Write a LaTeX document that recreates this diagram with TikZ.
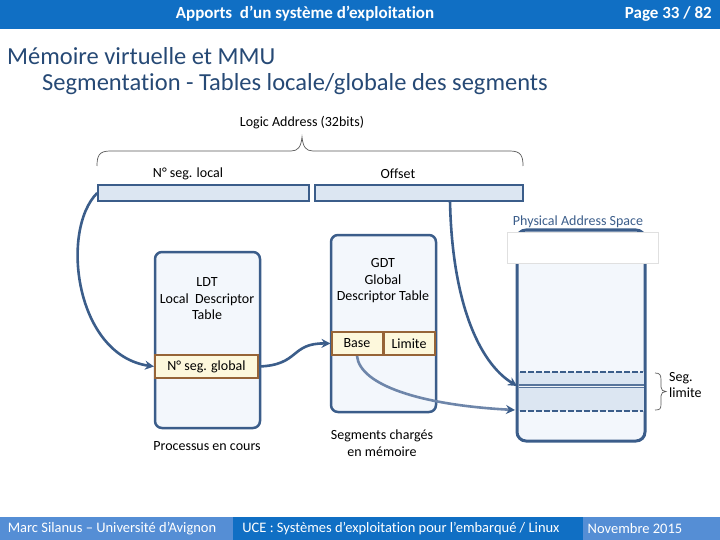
\documentclass[tikz,border=0pt]{standalone}
\usepackage{fontspec}
\setmainfont{Carlito}[Ligatures=NoCommon]
\usetikzlibrary{arrows.meta}
\definecolor{hdrblue}{RGB}{16,111,196}
\definecolor{footblue}{RGB}{85,142,213}
\definecolor{titleblue}{RGB}{38,73,117}
\definecolor{boxline}{RGB}{59,93,138}
\definecolor{boxfill}{RGB}{243,247,252}
\definecolor{barfill}{RGB}{220,230,242}
\definecolor{cellfill}{RGB}{253,248,220}
\definecolor{cellline}{RGB}{150,100,55}
\definecolor{linkpale}{RGB}{110,134,170}

\begin{document}
\begin{tikzpicture}[x=1pt, y=-1pt,
		table/.style={draw=boxline, fill=boxfill, line width=2.5pt, rounded corners=7pt, inner sep=0pt},
		addrbar/.style={draw=boxline, fill=barfill, line width=1.6pt, minimum height=16pt, inner sep=0pt},
		cell/.style={draw=cellline, fill=cellfill, line width=2pt, minimum height=23pt, inner sep=0pt, font=\fontsize{14}{16}\selectfont},
		link/.style={draw=boxline, line width=2.6pt, -{Stealth[length=9pt,width=9pt]}},
		lbl/.style={font=\fontsize{14}{16.5}\selectfont, align=center, inner sep=0pt}]
		\useasboundingbox (0,0) rectangle (720,540);

		% --- Header and footer bars ---
		\fill[hdrblue] (0,0) rectangle (720,29);
		\node[lbl, text=white, font=\fontsize{17}{20}\selectfont\bfseries] (hdrtitle) at (305,14) {Apports\ \ d’un système d’exploitation};
		\node[lbl, text=white, font=\fontsize{17}{20}\selectfont\bfseries, anchor=east] (hdrpage) at (712,14) {Page 33 / 82};
		\fill[footblue] (0,517) rectangle (233,540);
		\fill[hdrblue] (233,517) rectangle (583,540);
		\fill[footblue] (583,517) rectangle (720,540);
		\node[lbl, text=white, font=\fontsize{14.5}{17}\selectfont] (ftauthor) at (112,529) {Marc Silanus – Université d’Avignon};
		\node[lbl, text=white, font=\fontsize{14.5}{17}\selectfont] (ftcourse) at (401,529) {UCE : Systèmes d’exploitation pour l’embarqué / Linux};
		\node[lbl, text=white, font=\fontsize{14.5}{17}\selectfont] (ftdate) at (635,529) {Novembre 2015};

		% --- Slide title ---
		\node[lbl, text=titleblue, font=\fontsize{24.5}{29}\selectfont, anchor=west] (title1) at (7,56) {Mémoire virtuelle et MMU};
		\node[lbl, text=titleblue, font=\fontsize{24.5}{29}\selectfont, anchor=west] (title2) at (42,84) {Segmentation - Tables locale/globale des segments};

		% --- Logic address ---
		\node[lbl] (addrlbl) at (302,123) {Logic Address (32bits)};
		\draw[black!65, line width=0.7pt] (97,166) .. controls (97,156) and (99,151) .. (110,151) -- (291,151)
			.. controls (298,151) and (301,147) .. (302,137) .. controls (303,147) and (306,151) .. (313,151)
			-- (510,151) .. controls (521,151) and (523,156) .. (523,166);
		\node[lbl] (seglbl) at (188,174) {N° seg. local};
		\node[lbl] (offlbl) at (398,174) {Offset};
		\node[addrbar, minimum width=211pt] (segbar) at (203.5,193) {};
		\node[addrbar, minimum width=208pt] (offbar) at (419,193) {};
		\coordinate (offtap) at (450,201);

		% --- LDT ---
		\node[table, minimum width=105pt, minimum height=176pt] (ldt) at (207.5,340) {};
		\node[lbl] (ldtname) at (207,299) {LDT\\Local\ \ Descriptor\\Table};
		\node[cell, minimum width=103pt] (segglob) at (206.5,366.5) {N° seg. global};
		\node[lbl] (ldtcap) at (207,446) {Processus en cours};

		% --- GDT ---
		\node[table, minimum width=105pt, minimum height=177pt] (gdt) at (383.5,323.5) {};
		\node[lbl] (gdtname) at (383,281) {GDT\\Global\\Descriptor Table};
		\node[cell, minimum width=51pt] (base) at (357,343.5) {Base};
		\node[cell, minimum width=51pt] (limite) at (409,343.5) {Limite};
		\node[lbl] (gdtcap) at (382,443) {Segments chargés\\en mémoire};

		% --- Physical address space ---
		\node[table, rounded corners=9pt, line width=3pt, minimum width=128pt, minimum height=211pt] (phys) at (581,335.5) {};
		\node[draw=black!12, fill=white, minimum width=151pt, minimum height=31pt, inner sep=0pt] (physhead) at (582.5,247.5) {};
		\node[lbl, text=boxline] (physlbl) at (578,222) {Physical Address Space};
		\fill[barfill] (518.5,372) rectangle (643.5,411);
		\draw[boxline, line width=2pt, dash pattern=on 6pt off 2pt] (520,372) -- (643,372);
		\draw[boxline, line width=2pt, dash pattern=on 6pt off 2pt] (520,411) -- (643,411);
		\draw[boxline!85, line width=1.6pt, double=barfill!40, double distance=1pt] (518.5,386) -- (643.5,386);
		\coordinate (physbase) at (517,386);
		\coordinate (physlim) at (515,410);
		\draw[black!65, line width=0.7pt] (655,373) .. controls (660,373) and (661,375) .. (661,380) -- (661,387)
			.. controls (661,390) and (663,391.5) .. (666,391.5) .. controls (663,391.5) and (661,393) .. (661,396)
			-- (661,404) .. controls (661,409) and (660,410) .. (655,410);
		\node[lbl, align=left, anchor=west] (seglim) at (669,385) {Seg.\\limite};

		% --- Links ---
		\draw[link] (segbar.west) .. controls (60,230) and (75,355) .. (segglob.west);
		\draw[link] (segglob.east) .. controls (300,365) and (290,343) .. (base.west);
		\draw[link] (offtap) .. controls (452,300) and (478,362) .. (physbase);
		\draw[link, draw=linkpale, -{Stealth[length=9pt,width=9pt,color=boxline]}] (base.south) .. controls (360,385) and (420,405) .. (physlim);
	\end{tikzpicture}
\end{document}
